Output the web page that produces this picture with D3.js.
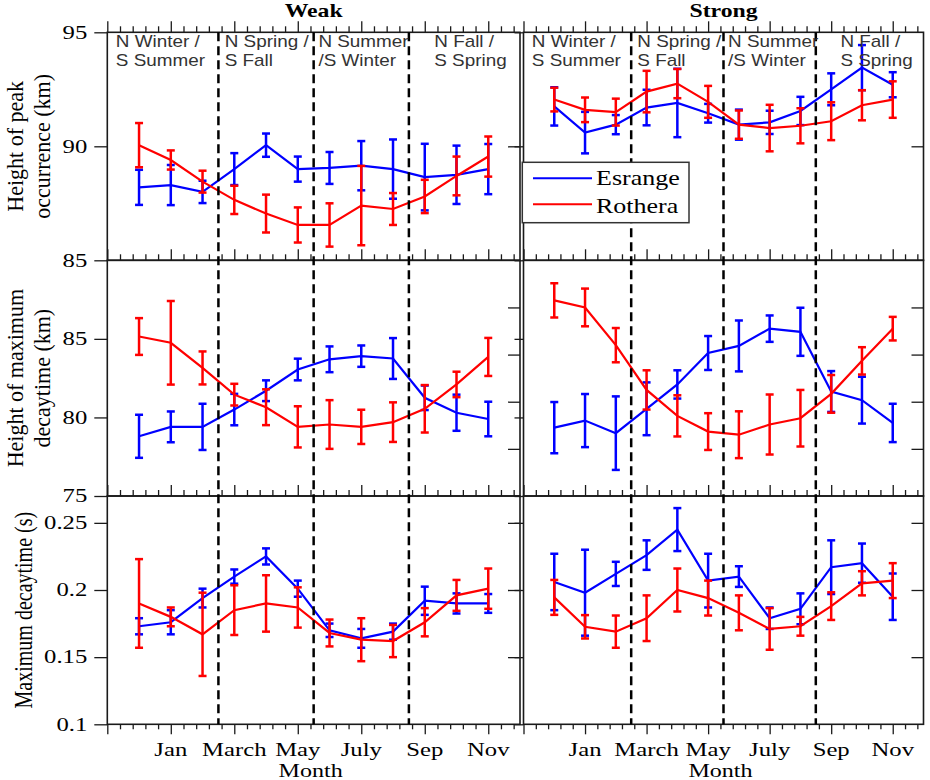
<!DOCTYPE html>
<html>
<head>
<meta charset="utf-8">
<script src="https://cdn.jsdelivr.net/npm/d3@7"></script>
<style>
  body { margin: 0; background: #fff; }
  svg { display: block; }
</style>
</head>
<body>
<svg id="chart" width="930" height="780"></svg>
<script>
// x positions: Dec = 0, Jan = 1 ... Nov = 11
let monthPos = [0, 1, 2, 3, 4, 5, 6, 7, 8, 9, 10, 11];
let tickMonths = [1, 3, 5, 7, 9, 11];
let tickLabels = ['Jan', 'March', 'May', 'July', 'Sep', 'Nov'];
let seasonBounds = [2.5, 5.5, 8.5];
let seasonPos = [-0.73, 2.7, 5.65, 9.3];
let seasonLines1 = ['N Winter /', 'N Spring /', 'N Summer', 'N Fall /'];
let seasonLines2 = ['S Summer', 'S Fall', '/S Winter', 'S Spring'];
let colTitles = ['Weak', 'Strong'];
let seriesNames = ['Esrange', 'Rothera'];

// height of peak occurrence (km)
let weakPeakEsr = [88.2, 88.3, 88.0, 89.0, 90.05, 89.0, 89.05, 89.15, 89.0, 88.65, 88.75, 89.0];
let weakPeakEsrErr = [0.77, 0.88, 0.49, 0.7, 0.51, 0.55, 0.7, 1.08, 1.3, 1.46, 1.28, 1.1];
let weakPeakRot = [90.05, 89.4, 88.45, 87.65, 87.05, 86.55, 86.55, 87.4, 87.25, 87.8, 88.7, 89.55];
let weakPeakRotErr = [0.97, 0.42, 0.48, 0.62, 0.83, 0.77, 0.95, 1.74, 0.7, 0.73, 0.85, 0.88];
let strongPeakEsr = [91.75, 90.6, 90.95, 91.7, 91.9, 91.45, 90.95, 91.05, 91.55, 92.5, 93.45, 92.7];
let strongPeakEsrErr = [0.84, 0.91, 0.42, 0.78, 1.5, 0.41, 0.66, 0.51, 0.62, 0.7, 0.99, 0.55];
let strongPeakRot = [92.05, 91.6, 91.5, 92.4, 92.75, 91.95, 90.95, 90.8, 90.9, 91.1, 91.8, 92.05];
let strongPeakRotErr = [0.52, 0.54, 0.59, 0.91, 0.64, 0.7, 0.62, 1.02, 0.77, 0.83, 0.66, 0.8];

// height of maximum decaytime (km)
let weakHmEsr = [78.8, 79.4, 79.4, 80.5, 81.7, 83.05, 83.7, 83.9, 83.75, 81.25, 80.3, 79.9];
let weakHmEsrErr = [1.37, 0.98, 1.47, 1.0, 0.66, 0.69, 0.82, 0.68, 1.3, 0.78, 1.15, 1.1];
let weakHmRot = [85.15, 84.75, 83.15, 81.45, 80.65, 79.4, 79.55, 79.4, 79.7, 80.55, 82.1, 83.85];
let weakHmRotErr = [1.17, 2.66, 1.05, 0.69, 1.14, 1.31, 1.55, 1.09, 1.26, 1.51, 0.81, 1.21];
let strongHmEsr = [79.35, 79.8, 79.0, 80.55, 82.1, 84.1, 84.55, 85.65, 85.45, 81.65, 81.1, 79.65];
let strongHmEsrErr = [1.63, 1.69, 2.34, 1.68, 0.9, 1.08, 1.62, 0.84, 1.53, 1.3, 1.49, 1.22];
let strongHmRot = [87.45, 87.0, 84.6, 81.75, 80.1, 79.1, 78.9, 79.55, 79.95, 81.5, 83.6, 85.65];
let strongHmRotErr = [1.09, 1.2, 1.09, 1.25, 1.31, 1.17, 1.49, 1.91, 1.8, 1.2, 0.87, 0.75];

// maximum decaytime (s)
let weakTauEsr = [0.173, 0.176, 0.194, 0.21, 0.225, 0.201, 0.17, 0.164, 0.169, 0.192, 0.19, 0.19];
let weakTauEsrErr = [0.006, 0.009, 0.007, 0.0053, 0.006, 0.006, 0.005, 0.007, 0.006, 0.0105, 0.0075, 0.007];
let weakTauRot = [0.19, 0.18, 0.167, 0.185, 0.19, 0.187, 0.168, 0.163, 0.162, 0.176, 0.196, 0.201];
let weakTauRotErr = [0.033, 0.007, 0.031, 0.0185, 0.021, 0.015, 0.01, 0.016, 0.012, 0.0105, 0.0115, 0.015];
let strongTauEsr = [0.206, 0.198, 0.212, 0.226, 0.245, 0.207, 0.21, 0.179, 0.186, 0.217, 0.22, 0.195];
let strongTauEsrErr = [0.021, 0.032, 0.009, 0.011, 0.016, 0.02, 0.0077, 0.008, 0.0115, 0.02, 0.0146, 0.0173];
let strongTauRot = [0.1945, 0.1726, 0.169, 0.179, 0.2, 0.194, 0.183, 0.171, 0.173, 0.188, 0.205, 0.207];
let strongTauRotErr = [0.013, 0.0087, 0.012, 0.017, 0.016, 0.013, 0.013, 0.0155, 0.007, 0.0103, 0.009, 0.013];

let svg = d3.select('#chart');

let blue = '#0000ff', red = '#ff0000', ink = '#1a1a1a';
let serif = '"Liberation Serif", "Times New Roman", serif';
let sans = '"Liberation Sans", Arial, sans-serif';

let cols = [
  { x0: 107.3, x1: 520 },
  { x0: 523.5, x1: 923.5 }
];

let rows = [
  { domain: [85, 95], top: 32.3, bottom: 260.3, left: [85, 90, 95], right: [90], fmt: d => d,
    title: ['Height of peak', 'occurrence (km)'], tx: [22.5, 50], tsize: 22, tsx: 1.05 },
  { domain: [75, 90], top: 260.3, bottom: 496, left: [75, 80, 85], right: [78, 81, 84, 87], fmt: d => d,
    title: ['Height of maximum', 'decaytime (km)'], tx: [22.5, 50], tsize: 22, tsx: 1.05 },
  { domain: [0.1, 0.27], top: 496, bottom: 724.3, left: [0.1, 0.15, 0.2, 0.25], right: [0.15, 0.2, 0.25], fmt: d => d,
    title: ['Maximum decaytime (s)'], tx: [31.7], tsize: 20, tsx: 1.3 }
];

let panelData = [
  [[weakPeakEsr, weakPeakEsrErr, weakPeakRot, weakPeakRotErr], [strongPeakEsr, strongPeakEsrErr, strongPeakRot, strongPeakRotErr]],
  [[weakHmEsr, weakHmEsrErr, weakHmRot, weakHmRotErr], [strongHmEsr, strongHmEsrErr, strongHmRot, strongHmRotErr]],
  [[weakTauEsr, weakTauEsrErr, weakTauRot, weakTauRotErr], [strongTauEsr, strongTauEsrErr, strongTauRot, strongTauRotErr]]
];

let xScales = cols.map(c => d3.scaleLinear().domain([-1, 12]).range([c.x0, c.x1]));
let yScales = rows.map(r => d3.scaleLinear().domain(r.domain).range([r.bottom, r.top]));

// horizontally stretched text, the source figure is squashed sideways
let stext = (parent, x, y, str, size, sx, opts = {}) => parent.append('text')
  .attr('transform', `translate(${x},${y}) scale(${sx},1)` + (opts.rotate ? ' rotate(-90)' : ''))
  .attr('text-anchor', opts.anchor || 'start')
  .attr('font-family', opts.family || serif)
  .attr('font-size', size)
  .attr('font-weight', opts.weight || 'normal')
  .attr('fill', opts.fill || '#000')
  .attr('dy', opts.dy || 0)
  .text(str);

let minorTicks = d3.range(0, 33).filter(i => i % 5 !== 0).map(i => -1 + i * 0.4);
let majorTicks = d3.range(0, 33).filter(i => i % 5 === 0).map(i => -1 + i * 0.4);

let styleAxis = g => {
  g.select('.domain').remove();
  g.selectAll('line').attr('stroke', ink).attr('stroke-width', 1.3);
};

cols.forEach((c, ci) => {
  let x = xScales[ci];

  rows.forEach((r, ri) => {
    let y = yScales[ri];
    let g = svg.append('g');

    // top x ticks (pointing up)
    g.append('g').attr('transform', `translate(0,${r.top})`)
      .call(d3.axisTop(x).tickValues(minorTicks).tickSize(6).tickFormat(''))
      .call(styleAxis);
    g.append('g').attr('transform', `translate(0,${r.top})`)
      .call(d3.axisTop(x).tickValues(majorTicks).tickSize(11).tickFormat(''))
      .call(styleAxis);

    // y ticks
    g.append('g').attr('transform', `translate(${c.x0},0)`)
      .call(d3.axisLeft(y).tickValues(r.left).tickSize(ci === 0 ? 13 : 9).tickFormat(''))
      .call(styleAxis);
    g.append('g').attr('transform', `translate(${c.x1},0)`)
      .call(d3.axisLeft(y).tickValues(r.right).tickSize(12).tickFormat(''))
      .call(styleAxis);

    // frame
    g.append('rect')
      .attr('x', c.x0).attr('y', r.top)
      .attr('width', c.x1 - c.x0).attr('height', r.bottom - r.top)
      .attr('fill', 'none').attr('stroke', ink).attr('stroke-width', 1.6);

    if (ci === 0) {
      r.left.forEach(v => stext(svg, 87.3, y(v), r.fmt(v), 19, 1.3, { anchor: 'end', dy: '0.33em' }));
      r.title.forEach((t, k) => {
        stext(svg, r.tx[k], (r.top + r.bottom) / 2, t, r.tsize, r.tsx, { anchor: 'middle', rotate: true });
      });
    }

    // series: Esrange then Rothera
    let [esr, esrErr, rot, rotErr] = panelData[ri][ci];
    [[esr, esrErr, blue], [rot, rotErr, red]].forEach(([vals, errs, col]) => {
      let pts = monthPos.map((m, i) => ({ m: m, v: vals[i], e: errs[i] }));

      g.append('path')
        .datum(pts)
        .attr('d', d3.line().x(d => x(d.m)).y(d => y(d.v)))
        .attr('fill', 'none')
        .attr('stroke', col)
        .attr('stroke-width', 2.2);

      let bars = g.selectAll(null)
        .data(pts)
        .enter()
        .append('g')
        .attr('stroke', col)
        .attr('stroke-width', 2.5);
      bars.append('line')
        .attr('x1', d => x(d.m)).attr('x2', d => x(d.m))
        .attr('y1', d => y(d.v - d.e)).attr('y2', d => y(d.v + d.e));
      bars.append('line')
        .attr('x1', d => x(d.m) - 4).attr('x2', d => x(d.m) + 4)
        .attr('y1', d => y(d.v + d.e)).attr('y2', d => y(d.v + d.e));
      bars.append('line')
        .attr('x1', d => x(d.m) - 4).attr('x2', d => x(d.m) + 4)
        .attr('y1', d => y(d.v - d.e)).attr('y2', d => y(d.v - d.e));
    });
  });

  // bottom month axis
  let last = rows[rows.length - 1];
  svg.append('g').attr('transform', `translate(0,${last.bottom})`)
    .call(d3.axisBottom(x).tickValues(minorTicks).tickSize(5).tickFormat(''))
    .call(styleAxis);
  svg.append('g').attr('transform', `translate(0,${last.bottom})`)
    .call(d3.axisBottom(x).tickValues(majorTicks).tickSize(10).tickFormat(''))
    .call(styleAxis);
  tickMonths.forEach((m, i) => stext(svg, x(m), 755.5, tickLabels[i], 19, 1.3, { anchor: 'middle' }));
  stext(svg, (c.x0 + c.x1) / 2 - 3, 777, 'Month', 18.5, 1.3, { anchor: 'middle' });

  // season dividers
  svg.append('g').selectAll('line')
    .data(seasonBounds)
    .enter()
    .append('line')
    .attr('x1', d => x(d)).attr('x2', d => x(d))
    .attr('y1', rows[0].top).attr('y2', last.bottom)
    .attr('stroke', '#000')
    .attr('stroke-width', 2.5)
    .attr('stroke-dasharray', '9,5');

  seasonPos.forEach((p, i) => {
    stext(svg, x(p), 46.7, seasonLines1[i], 16, 1.18, { family: sans, fill: '#333' });
    stext(svg, x(p), 65.7, seasonLines2[i], 16, 1.18, { family: sans, fill: '#333' });
  });

  stext(svg, (c.x0 + c.x1) / 2, 17, colTitles[ci], 19, 1.25, { anchor: 'middle', weight: 'bold' });
});

// legend
let leg = svg.append('g');
leg.append('rect')
  .attr('x', 522.3).attr('y', 162.3)
  .attr('width', 166.7).attr('height', 60.4)
  .attr('fill', '#fff').attr('stroke', '#333').attr('stroke-width', 1.5);
[blue, red].forEach((col, i) => {
  let ly = 178.3 + i * 26;
  leg.append('line')
    .attr('x1', 533).attr('x2', 592)
    .attr('y1', ly).attr('y2', ly)
    .attr('stroke', col).attr('stroke-width', 2);
  stext(leg, 596, ly + 7 + i * 2, seriesNames[i], 20, 1.3);
});
</script>
</body>
</html>
